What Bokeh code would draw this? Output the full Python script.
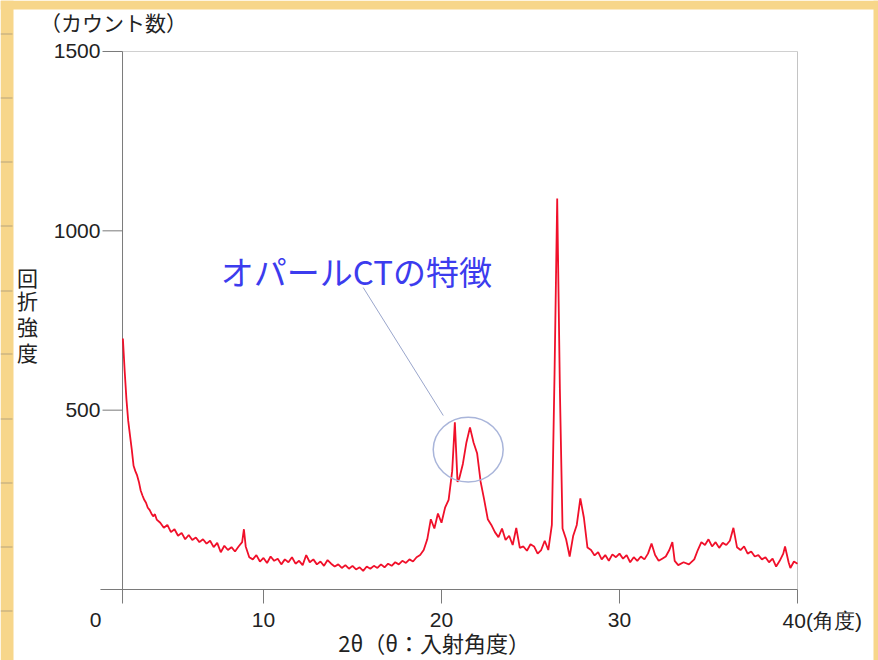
from bokeh.plotting import figure
from bokeh.models import BoxAnnotation
from bokeh.core.properties import value
from bokeh.embed import file_html
from bokeh.resources import INLINE

# ---- data ----
two_theta = [
    2.1, 2.2, 2.3, 2.4, 2.5, 2.6, 2.7, 2.8, 2.9, 3.0,
    3.1, 3.2, 3.3, 3.4, 3.5, 3.6, 3.7, 3.8, 3.9, 4.0,
    4.2, 4.4, 4.6, 4.8, 5.0, 5.2, 5.4, 5.6, 5.8, 6.0,
    6.2, 6.4, 6.6, 6.8, 7.0, 7.2, 7.4, 7.6, 7.8, 8.0,
    8.2, 8.4, 8.6, 8.8, 8.9, 9.0, 9.2, 9.4, 9.6, 9.8,
    10.0, 10.2, 10.4, 10.6, 10.8, 11.0, 11.2, 11.4, 11.6, 11.8,
    12.0, 12.2, 12.4, 12.6, 12.8, 13.0, 13.2, 13.4, 13.6, 13.8,
    14.0, 14.2, 14.4, 14.6, 14.8, 15.0, 15.2, 15.4, 15.6, 15.8,
    16.0, 16.2, 16.4, 16.6, 16.8, 17.0, 17.2, 17.4, 17.6, 17.8,
    18.0, 18.2, 18.4, 18.6, 18.8, 19.0, 19.2, 19.4, 19.6, 19.8,
    20.0, 20.2, 20.4, 20.6, 20.75, 20.9, 21.0, 21.2, 21.4, 21.6,
    21.8, 22.0, 22.2, 22.4, 22.6, 22.8, 23.0, 23.2, 23.4, 23.6,
    23.8, 24.0, 24.2, 24.4, 24.6, 24.8, 25.0, 25.2, 25.4, 25.6,
    25.8, 26.0, 26.2, 26.35, 26.5, 26.65, 26.8, 27.0, 27.2, 27.4,
    27.6, 27.8, 28.0, 28.2, 28.4, 28.6, 28.8, 29.0, 29.2, 29.4,
    29.6, 29.8, 30.0, 30.2, 30.4, 30.6, 30.8, 31.0, 31.2, 31.4,
    31.6, 31.8, 32.0, 32.2, 32.4, 32.6, 32.8, 32.97, 33.1, 33.3,
    33.6, 33.9, 34.2, 34.4, 34.6, 34.8, 35.0, 35.2, 35.4, 35.6,
    35.8, 36.0, 36.2, 36.4, 36.6, 36.8, 37.0, 37.2, 37.4, 37.6,
    37.8, 38.0, 38.2, 38.4, 38.6, 38.8, 39.0, 39.2, 39.3, 39.5,
    39.6, 39.8, 40.0,
]
intensity = [
    700, 610, 530, 470, 430, 390, 345, 330, 318, 300,
    276, 262, 250, 242, 228, 222, 212, 204, 210, 195,
    186, 172, 180, 160, 168, 150, 158, 140, 152, 138,
    145, 132, 140, 128, 136, 118, 130, 104, 122, 110,
    118, 106, 120, 132, 168, 120, 90, 84, 96, 78,
    88, 74, 92, 80, 86, 70, 84, 76, 90, 72,
    80, 68, 96, 76, 84, 70, 78, 66, 82, 72,
    64, 70, 60, 68, 58, 66, 56, 62, 52, 64,
    58, 66, 60, 70, 62, 72, 66, 76, 70, 80,
    74, 84, 78, 90, 96, 110, 140, 196, 170, 212,
    186, 228, 250, 330, 466, 300, 310, 350, 410, 452,
    410, 380, 300, 250, 196, 180, 160, 146, 170, 138,
    150, 124, 172, 116, 120, 108, 126, 120, 100, 110,
    136, 110, 180, 600, 1090, 560, 170, 140, 92, 150,
    180, 254, 200, 117, 110, 95, 104, 84, 96, 80,
    98, 90, 100, 86, 96, 76, 90, 80, 92, 84,
    100, 128, 96, 80, 86, 92, 110, 132, 80, 68,
    76, 70, 84, 110, 132, 124, 140, 120, 132, 116,
    130, 124, 136, 172, 118, 110, 120, 100, 106, 92,
    96, 84, 90, 76, 86, 64, 80, 100, 120, 76,
    60, 78, 72,
]
x_ticks = [10, 20, 30, 40]
x_tick_labels = ["10", "20", "30", ""]
y_ticks = [500, 1000, 1500]
y_tick_labels = ["500", "1000", "1500"]
y_title_chars = ["回", "折", "強", "度"]

annotation_text = "オパールCTの特徴"
ellipse_center = (21.5, 390)
ellipse_size = (3.93, 181)
leader_from = (15.6, 842)
leader_to = (20.1, 485)

# ---- layout (pixel scale of the reference) ----
W, H = 878, 660
PX_PER_DEG = 17.8
PX_PER_COUNT = 0.35867
ORIGIN_PX = (85, 589)          # where 0 deg / 0 counts sit on the page
X0 = -ORIGIN_PX[0] / PX_PER_DEG
X1 = (W - ORIGIN_PX[0]) / PX_PER_DEG
Y0 = (ORIGIN_PX[1] - H) / PX_PER_COUNT
Y1 = ORIGIN_PX[1] / PX_PER_COUNT

Y_AXIS_AT = 2.08               # vertical axis position (deg)
X_AXIS_FROM = 0.84             # left end of the horizontal axis line
X_MAX = 40
Y_MAX = 1500
XTICK_LEN = 14 / PX_PER_COUNT
YTICK_LEN = 20 / PX_PER_DEG
LABEL_ROW = -86                # counts, row of the x tick labels

JP = "Noto Sans CJK JP"
NUM = "Liberation Sans"
YELLOW = "#F7D68A"
RED = "#F0102A"
INK = "#222222"
AXIS = "#7a7a7a"

p = figure(frame_width=W, frame_height=H, x_range=(X0, X1), y_range=(Y0, Y1),
           x_axis_type=None, y_axis_type=None,
           min_border=0, output_backend="svg", toolbar_location=None)
p.outline_line_color = None
p.grid.visible = False
p.background_fill_color = "white"
p.border_fill_color = "white"

# light frame on top and right
p.segment(x0=[Y_AXIS_AT], y0=[Y_MAX], x1=[X_MAX], y1=[Y_MAX], line_color="#d0d0d0", line_width=1)
p.segment(x0=[X_MAX], y0=[0], x1=[X_MAX], y1=[Y_MAX], line_color="#c4c4c4", line_width=1)

# axis lines
p.segment(x0=[Y_AXIS_AT], y0=[-XTICK_LEN], x1=[Y_AXIS_AT], y1=[Y_MAX], line_color=AXIS, line_width=1)
p.segment(x0=[X_AXIS_FROM], y0=[0], x1=[X_MAX], y1=[0], line_color=AXIS, line_width=1)
# ticks
p.segment(x0=x_ticks, y0=[0] * len(x_ticks), x1=x_ticks, y1=[-XTICK_LEN] * len(x_ticks),
          line_color=AXIS, line_width=1)
p.segment(x0=[Y_AXIS_AT - YTICK_LEN] * len(y_ticks), y0=y_ticks,
          x1=[Y_AXIS_AT] * len(y_ticks), y1=y_ticks, line_color=AXIS, line_width=1)
# tick labels
p.text(x=x_ticks, y=[LABEL_ROW] * len(x_ticks), text=x_tick_labels,
       text_font=value(NUM), text_font_size="21px", text_color=INK,
       text_align="center", text_baseline="middle")
p.text(x=[X_AXIS_FROM] * len(y_ticks), y=y_ticks, text=y_tick_labels,
       text_font=value(NUM), text_font_size="21px", text_color=INK,
       text_align="right", text_baseline="middle")
p.text(x=[0.56], y=[LABEL_ROW], text=["0"], text_font=value(NUM), text_font_size="21px",
       text_color=INK, text_align="center", text_baseline="middle")
p.text(x=[39.16], y=[LABEL_ROW], text=["40(角度)"], text_font=value(NUM),
       text_font_size="21px", text_color=INK, text_align="left", text_baseline="middle")

# axis titles
p.text(x=[-2.55], y=[1583], text=["（カウント数）"], text_font=value(JP),
       text_font_size="21px", text_color=INK, text_align="left", text_baseline="middle")
p.text(x=[-3.26] * 4, y=[870, 806, 736, 661], text=y_title_chars, text_font=value(JP),
       text_font_size="21px", text_color=INK, text_align="center", text_baseline="middle")
p.text(x=[14.2], y=[-145], text=["2θ（θ：入射角度）"], text_font=value(JP),
       text_font_size="22px", text_color=INK, text_align="left", text_baseline="middle")

# data line
p.line(two_theta, intensity, line_color=RED, line_width=1.8)

# annotation
p.ellipse(x=[ellipse_center[0]], y=[ellipse_center[1]], width=ellipse_size[0],
          height=ellipse_size[1], fill_color=None, line_color="#A9B5DA", line_width=1.5)
p.segment(x0=[leader_from[0]], y0=[leader_from[1]], x1=[leader_to[0]], y1=[leader_to[1]],
          line_color="#9AA6CC", line_width=1)
p.text(x=[7.6], y=[889], text=[annotation_text], text_font=value(JP),
       text_font_size="33px", text_color="#3C3CEE", text_align="left", text_baseline="middle")

# yellow page frame strips and the little marks on the left one
strips = [(0, 13, 0, H), (0, W, 0, 9), (873, W, 0, H)]
for l, r, t, b in strips:
    p.add_layout(BoxAnnotation(left=l, right=r, top=t, bottom=b,
                               left_units="canvas", right_units="canvas",
                               top_units="canvas", bottom_units="canvas",
                               fill_color=YELLOW, fill_alpha=1, line_color=None,
                               level="overlay"))
for yy in [33, 97, 161, 225, 290, 353, 418, 482, 546, 610]:
    p.add_layout(BoxAnnotation(left=0, right=12, top=yy, bottom=yy + 1,
                               left_units="canvas", right_units="canvas",
                               top_units="canvas", bottom_units="canvas",
                               fill_color="#A89878", fill_alpha=0.8, line_color=None,
                               level="overlay"))

open("out.html", "w").write(file_html(p, INLINE))
